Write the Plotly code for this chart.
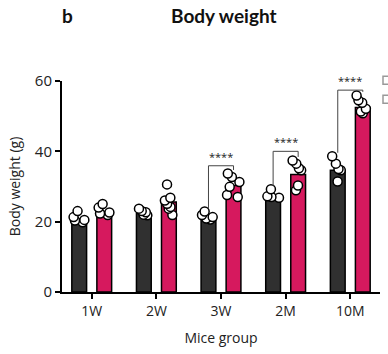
import plotly.graph_objects as go

groups = ["1W", "2W", "3W", "2M", "10M"]

# bar heights (group means)
mean_dark = [20.0, 22.3, 21.3, 26.8, 34.6]
mean_pink = [21.5, 25.6, 30.3, 33.4, 52.5]

# individual animals
pts_dark = [
    [23.0, 21.3, 20.3, 19.8, 20.5],
    [23.7, 22.7, 22.0, 21.8, 23.0],
    [22.9, 21.9, 20.9, 21.3, 20.6],
    [29.2, 27.0, 27.2, 26.8],
    [38.6, 36.5, 34.6, 35.0, 31.4],
]
pts_pink = [
    [25.0, 24.0, 22.3, 21.9, 22.6],
    [30.6, 26.8, 26.0, 25.1, 24.2, 23.7, 21.9],
    [33.7, 32.7, 31.3, 29.9, 27.0, 27.6],
    [37.4, 36.5, 35.2, 34.6, 30.3, 28.9],
    [55.9, 54.5, 53.8, 52.1, 50.8, 51.3],
]

# significance brackets: group index, bracket level, label
sig_groups = [2, 3, 4]
sig_levels = [35.9, 40.0, 57.4]
sig_labels = ["****", "****", "****"]

DARK = "#303030"
PINK = "#D6195E"
BARGAP = 0.225
GROUPGAP = 0.41
half = (1 - BARGAP) / 4

xs = list(range(len(groups)))
fig = go.Figure()
fig.add_trace(go.Bar(x=xs, y=mean_dark, marker=dict(color=DARK, line=dict(color="black", width=1.5)), name="dark"))
fig.add_trace(go.Bar(x=xs, y=mean_pink, marker=dict(color=PINK, line=dict(color="black", width=1.5)), name="pink"))

for pts, nm in [(pts_dark, "d"), (pts_pink, "p")]:
    bx, by = [], []
    for i, arr in enumerate(pts):
        bx += [i] * len(arr)
        by += arr
    fig.add_trace(go.Box(
        x=bx, y=by, name=nm, boxpoints="all", jitter=0.9, pointpos=0,
        fillcolor="rgba(0,0,0,0)", line=dict(color="rgba(0,0,0,0)", width=0),
        whiskerwidth=0,
        marker=dict(color="white", size=9, line=dict(color="black", width=1.5)),
    ))

for g, lev, lab in zip(sig_groups, sig_levels, sig_labels):
    left_end = max(pts_dark[g]) + 1.0
    right_end = max(pts_pink[g]) + 1.0
    fig.add_trace(go.Scatter(
        x=[g - half, g - half, g + half, g + half],
        y=[left_end, lev, lev, right_end],
        mode="lines", line=dict(color="#444", width=1), hoverinfo="skip", cliponaxis=False,
    ))
    fig.add_annotation(x=g, y=lev, text=lab, showarrow=False, yanchor="bottom", yshift=0,
                       font=dict(family="Open Sans", size=11, color="#222"))

fig.update_traces(cliponaxis=False, selector=dict(type="bar"))

fig.update_layout(
    width=388, height=354,
    margin=dict(l=62, r=8, t=81, b=62),
    paper_bgcolor="white", plot_bgcolor="white",
    showlegend=False,
    barmode="group", bargap=BARGAP, bargroupgap=GROUPGAP,
    boxmode="group", boxgap=BARGAP, boxgroupgap=GROUPGAP,
    font=dict(family="Open Sans", size=14, color="#222"),
)
fig.update_xaxes(
    range=[-0.46, 4.46], tickvals=xs, ticktext=groups,
    showline=True, linecolor="black", linewidth=2,
    ticks="outside", ticklen=5, tickwidth=2, tickcolor="black",
    showgrid=False, zeroline=False,
    tickfont=dict(size=14),
    title=dict(text="Mice group", font=dict(size=14), standoff=14),
)
fig.update_yaxes(
    range=[0, 60], tickvals=[0, 20, 40, 60],
    showline=True, linecolor="black", linewidth=2,
    ticks="outside", ticklen=5, tickwidth=2, tickcolor="black",
    showgrid=False, zeroline=False,
    tickfont=dict(size=15),
    title=dict(text="Body weight (g)", font=dict(size=14), standoff=11),
)

fig.add_annotation(xref="paper", yref="paper", x=(224 - 62) / 318, y=1 + (81 - 15) / 211,
                   text="<b>Body weight</b>", showarrow=False, xanchor="center", yanchor="middle",
                   font=dict(family="Lato", size=19, color="#111"))
fig.add_annotation(xref="paper", yref="paper", x=(67 - 62) / 318, y=1 + (81 - 15) / 211,
                   text="<b>b</b>", showarrow=False, xanchor="center", yanchor="middle",
                   font=dict(family="Lato", size=19, color="#111"))

# partially visible legend boxes at the right edge
for yc in [80, 99]:
    fig.add_shape(type="rect", xref="paper", yref="paper",
                  x0=(383 - 62) / 318, x1=(393 - 62) / 318,
                  y0=(291.7 - yc - 4) / 211, y1=(291.7 - yc + 4) / 211,
                  line=dict(color="#999", width=1.5), fillcolor="white")

fig.write_html("out.html", config={"displayModeBar": False},
               post_script="document.body.style.margin='0';")
